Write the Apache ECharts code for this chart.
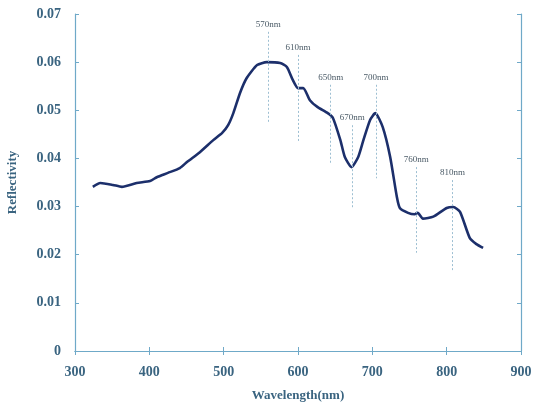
<!DOCTYPE html>
<html>
<head>
<meta charset="utf-8">
<script src="https://cdn.jsdelivr.net/npm/echarts@6/dist/echarts.min.js"></script>
<style>
  html, body { margin: 0; padding: 0; background: #fff; }
  #chart { width: 534px; height: 405px; }
</style>
</head>
<body>
<div id="chart"></div>
<script>
// 光谱曲线数据
var wavelength = [324, 334, 351, 363, 383, 401, 410, 425, 441, 451, 468, 486, 498, 506, 513, 522, 531, 545, 558,
  576, 585, 593, 600, 607, 616, 626, 640, 647, 657, 663, 672, 681, 688, 697, 704, 714, 724, 733, 737, 748, 757, 761,
  768, 782, 800, 809, 818, 831, 840, 849];
var reflectivity = [0.0341, 0.0349, 0.0345, 0.0341, 0.0349, 0.0353, 0.0361, 0.0370, 0.0380, 0.0393, 0.0413, 0.0438,
  0.0453, 0.0469, 0.0494, 0.0536, 0.0567, 0.0594, 0.0600, 0.0598, 0.0590, 0.0563, 0.0546, 0.0546, 0.0521, 0.0507,
  0.0494, 0.0484, 0.0438, 0.0403, 0.0382, 0.0403, 0.0438, 0.0480, 0.0494, 0.0465, 0.0403, 0.0320, 0.0297, 0.0287,
  0.0284, 0.0287, 0.0275, 0.0279, 0.0297, 0.0299, 0.0289, 0.0235, 0.0222, 0.0214];

// 特征波段标注
var markLabels = ["570nm", "610nm", "650nm", "670nm", "700nm", "760nm", "810nm"];
var markWave = [560, 600, 644, 673, 705, 759, 808];
var markTop = [0.0663, 0.0615, 0.0553, 0.0469, 0.0553, 0.0382, 0.0355];
var markBottom = [0.0474, 0.0434, 0.0391, 0.0297, 0.0359, 0.0204, 0.0168];

var xTicks = [300, 400, 500, 600, 700, 800, 900];

var textColor = "#3a6480";
var lineColor = "#6fa9c8";
var fontFamily = "'Liberation Serif', 'DejaVu Serif', serif";

var seriesData = [];
for (var i = 0; i < wavelength.length; i++) {
  seriesData.push([wavelength[i], reflectivity[i]]);
}

var markData = [];
for (var j = 0; j < markWave.length; j++) {
  markData.push([
    {coord: [markWave[j], markTop[j]], name: markLabels[j]},
    {coord: [markWave[j], markBottom[j]]}
  ]);
}

var chart = echarts.init(document.getElementById("chart"));

var axisLine = {show: true, lineStyle: {color: lineColor, width: 1.2}};
var axisTick = {show: true, inside: true, length: 4, lineStyle: {color: lineColor}};

var option = {
  animation: false,
  grid: {left: 75, right: 13, top: 14, bottom: 54, containLabel: false, outerBoundsMode: "none"},
  xAxis: [{
    type: "value",
    min: xTicks[0],
    max: xTicks[xTicks.length - 1],
    interval: 100,
    name: "Wavelength(nm)",
    nameLocation: "middle",
    nameGap: 38,
    nameTextStyle: {color: textColor, fontFamily: fontFamily, fontSize: 13, fontWeight: "bold"},
    axisLine: axisLine,
    axisTick: axisTick,
    axisLabel: {color: textColor, fontFamily: fontFamily, fontSize: 14, fontWeight: "bold", margin: 14},
    splitLine: {show: false}
  }, {
    type: "value",
    position: "top",
    min: 300, max: 900, interval: 100,
    axisLine: axisLine,
    axisTick: axisTick,
    axisLabel: {show: false},
    splitLine: {show: false}
  }],
  yAxis: [{
    type: "value",
    min: 0,
    max: 0.07,
    interval: 0.01,
    name: "Reflectivity",
    nameLocation: "middle",
    nameGap: 56,
    nameTextStyle: {color: textColor, fontFamily: fontFamily, fontSize: 13, fontWeight: "bold"},
    axisLine: axisLine,
    axisTick: axisTick,
    axisLabel: {
      color: textColor, fontFamily: fontFamily, fontSize: 14, fontWeight: "bold", margin: 14,
      formatter: function (v) { return v === 0 ? "0" : v.toFixed(2); }
    },
    splitLine: {show: false}
  }, {
    type: "value",
    position: "right",
    min: 0, max: 0.07, interval: 0.01,
    axisLine: axisLine,
    axisTick: axisTick,
    axisLabel: {show: false},
    splitLine: {show: false}
  }],
  series: [{
    type: "line",
    data: seriesData,
    smooth: 0.2,
    symbol: "none",
    lineStyle: {color: "#1c2f6b", width: 2.6},
    markLine: {
      silent: true,
      symbol: ["none", "none"],
      lineStyle: {color: "#9dbfd2", type: [2, 2], width: 1},
      label: {
        position: "start",
        distance: 3,
        formatter: "{b}",
        color: "#4a5a66",
        fontFamily: fontFamily,
        fontSize: 9
      },
      data: markData
    }
  }]
};

chart.setOption(option);
</script>
</body>
</html>
